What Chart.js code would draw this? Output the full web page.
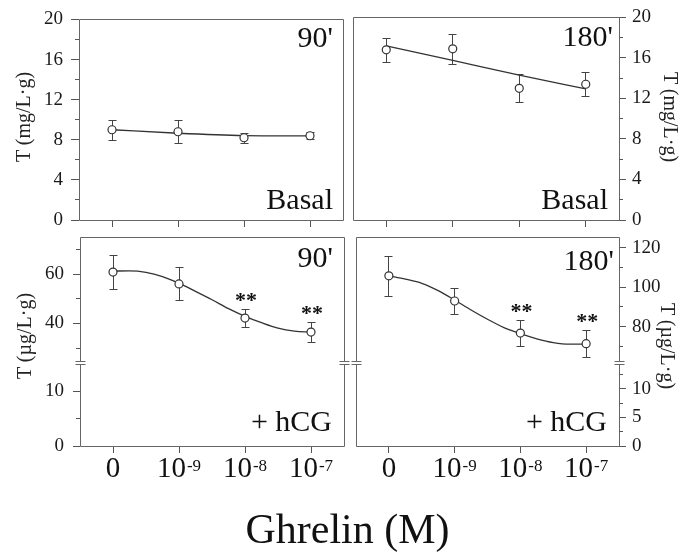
<!DOCTYPE html>
<html>
<head>
<meta charset="utf-8">
<script src="https://cdn.jsdelivr.net/npm/chart.js@4/dist/chart.umd.min.js"></script>
<style>
  body { margin: 0; background: #fff; }
  #wrap { position: relative; width: 695px; height: 555px; background: #fff; overflow: hidden;
          font-family: "Liberation Serif", "Times New Roman", serif; color: #111; }
  canvas { position: absolute; left: 0; top: 0; }
  .lbl { position: absolute; font-size: 30px; line-height: 30px; white-space: nowrap; }
  .ytitle { position: absolute; font-size: 20px; line-height: 20px; white-space: nowrap; color: #222; }
  .ytitle.l { transform: translate(-50%, -50%) rotate(-90deg); }
  .ytitle.r { transform: translate(-50%, -50%) rotate(90deg); }
  #xtitle { position: absolute; left: 0; width: 695px; top: 508px; text-align: center;
            font-size: 42px; line-height: 42px; }
</style>
</head>
<body>
<div id="wrap">
  <canvas id="tl" width="695" height="555"></canvas>
  <canvas id="tr" width="695" height="555"></canvas>
  <canvas id="bl" width="695" height="555"></canvas>
  <canvas id="br" width="695" height="555"></canvas>

  <div class="lbl" style="right:362px;top:22px">90'</div>
  <div class="lbl" style="right:362px;top:184px">Basal</div>
  <div class="lbl" style="right:82px;top:21px">180'</div>
  <div class="lbl" style="right:87px;top:184px">Basal</div>
  <div class="lbl" style="right:362px;top:242px">90'</div>
  <div class="lbl" style="right:363px;top:406px">+ hCG</div>
  <div class="lbl" style="right:81px;top:245px">180'</div>
  <div class="lbl" style="right:88px;top:406px">+ hCG</div>

  <div class="ytitle l" style="left:23px;top:117px">T (mg/L·g)</div>
  <div class="ytitle r" style="left:671px;top:117px">T (mg/L·g)</div>
  <div class="ytitle l" style="left:24px;top:336px">T (µg/L·g)</div>
  <div class="ytitle r" style="left:668px;top:346px">T (µg/L·g)</div>

  <div id="xtitle">Ghrelin (M)</div>
</div>

<script>
// ghrelin doses, plotted at equal spacing
const doses = [0, 1, 2, 3];
const doseBase = ['0', '10', '10', '10'];
const doseExp = ['', '-9', '-8', '-7'];

// basal, mg/L·g
const basal90 = [9.0, 8.8, 8.2, 8.4];
const basal90Err = [1.0, 1.15, 0.5, 0.35];
const basal90Fit = [9.0, 8.65, 8.42, 8.38];

const basal180 = [16.8, 16.9, 13.0, 13.4];
const basal180Err = [1.2, 1.5, 1.4, 1.2];
const basal180Fit = [17.2, 15.75, 14.3, 12.95];

// + hCG, µg/L·g (fit curve read at quarter steps)
const fitX = [0, 0.25, 0.5, 0.75, 1, 1.25, 1.5, 1.75, 2, 2.25, 2.5, 2.75, 3];

const hcg90 = [60.8, 56.0, 42.2, 36.5];
const hcg90Err = [7.0, 6.7, 3.7, 4.05];
const hcg90Fit = [61.2, 61.3, 60.7, 59.0, 56.3, 53.0, 49.6, 46.0, 42.9, 40.3, 38.1, 36.9, 36.5];
const hcg90Stars = ['', '', '**', '**'];

const hcg180 = [105.8, 93.0, 76.7, 71.3];
const hcg180Err = [10.3, 6.5, 6.6, 7.0];
const hcg180Fit = [105.8, 104.1, 102.0, 98.3, 93.5, 88.4, 83.7, 79.5, 76.4, 73.8, 71.9, 71.1, 71.1];
const hcg180Stars = ['', '', '**', '**'];

// axis ticks
const basalTicks = [0, 4, 8, 12, 16, 20];
const basalMinor = [2, 6, 10, 14, 18];
const hcg90LoTicks = [0, 10];
const hcg90LoMinor = [5];
const hcg90HiTicks = [40, 60];
const hcg90HiMinor = [30, 50, 70];
const hcg180LoTicks = [0, 5, 10];
const hcg180LoMinor = [2.5, 7.5, 12.5];
const hcg180HiTicks = [80, 100, 120];
const hcg180HiMinor = [70, 90, 110];

const SERIF = '"Liberation Serif", "Times New Roman", serif';
const INK = '#333';
const AXIS = '#666';

const al = p => Math.round(p - 0.5) + 0.5;

const decor = {
  id: 'decor',
  beforeDatasetsDraw(chart) {
    const ctx = chart.ctx;
    chart.data.datasets.forEach(ds => {
      if (!ds.errors) return;
      const xs = chart.scales.x, ys = chart.scales[ds.yAxisID];
      ctx.save();
      ctx.strokeStyle = '#444';
      ctx.lineWidth = 1;
      ds.data.forEach((p, i) => {
        const x = al(xs.getPixelForValue(p.x));
        const y1 = Math.round(ys.getPixelForValue(p.y + ds.errors[i])) + 0.5;
        const y2 = Math.round(ys.getPixelForValue(p.y - ds.errors[i])) + 0.5;
        ctx.beginPath();
        ctx.moveTo(x, y1); ctx.lineTo(x, y2);
        ctx.moveTo(x - 4, y1); ctx.lineTo(x + 4, y1);
        ctx.moveTo(x - 4, y2); ctx.lineTo(x + 4, y2);
        ctx.stroke();
      });
      ctx.restore();
    });
  },
  afterDatasetsDraw(chart) {
    const ctx = chart.ctx;
    chart.data.datasets.forEach(ds => {
      if (!ds.stars) return;
      const xs = chart.scales.x, ys = chart.scales[ds.yAxisID];
      ctx.save();
      ctx.fillStyle = '#111';
      ctx.font = 'bold 22px ' + SERIF;
      ctx.textAlign = 'center';
      ds.data.forEach((p, i) => {
        if (!ds.stars[i]) return;
        const top = ys.getPixelForValue(p.y + ds.errors[i]);
        ctx.fillText(ds.stars[i], xs.getPixelForValue(p.x) + 1, top - 2);
      });
      ctx.restore();
    });
  },
  afterDraw(chart, args, opts) {
    const ctx = chart.ctx;
    const ca = chart.chartArea;
    const L = al(ca.left), R = al(ca.right), T = al(ca.top), B = al(ca.bottom);
    ctx.save();
    ctx.strokeStyle = AXIS;
    ctx.lineWidth = 1;
    ctx.beginPath();
    ctx.moveTo(L, B); ctx.lineTo(R, B);
    ctx.moveTo(L, T); ctx.lineTo(R, T);
    if (opts.brk) {
      const yb = chart.scales[opts.brk].top;
      const u = Math.round(yb) - 1.5, d = Math.round(yb) + 1.5;
      [L, R].forEach(x => {
        ctx.moveTo(x, T); ctx.lineTo(x, u);
        ctx.moveTo(x, d); ctx.lineTo(x, B);
        ctx.moveTo(x - 5, u); ctx.lineTo(x + 5, u);
        ctx.moveTo(x - 5, d); ctx.lineTo(x + 5, d);
      });
    } else {
      ctx.moveTo(L, T); ctx.lineTo(L, B);
      ctx.moveTo(R, T); ctx.lineTo(R, B);
    }
    ctx.stroke();

    // minor ticks
    ctx.strokeStyle = '#555';
    ctx.beginPath();
    (opts.minor || []).forEach(m => {
      const s = chart.scales[m.axis];
      m.vals.forEach(v => {
        const y = al(s.getPixelForValue(v));
        if (s.position === 'left') { ctx.moveTo(ca.left - 4, y); ctx.lineTo(ca.left, y); }
        else { ctx.moveTo(ca.right, y); ctx.lineTo(ca.right + 4, y); }
      });
    });
    ctx.stroke();

    // dose labels with superscript exponents
    if (opts.xLabels) {
      const xs = chart.scales.x;
      ctx.fillStyle = '#111';
      ctx.textAlign = 'left';
      ctx.textBaseline = 'alphabetic';
      const base = ca.bottom + 31;
      doses.forEach((d, i) => {
        ctx.font = '29px ' + SERIF;
        const wb = ctx.measureText(doseBase[i]).width;
        ctx.font = '17px ' + SERIF;
        const we = doseExp[i] ? ctx.measureText(doseExp[i]).width + 1 : 0;
        const x0 = xs.getPixelForValue(d) - (wb + we) / 2;
        ctx.font = '29px ' + SERIF;
        ctx.fillText(doseBase[i], x0, base);
        if (doseExp[i]) {
          ctx.font = '17px ' + SERIF;
          ctx.fillText(doseExp[i], x0 + wb + 1, base - 6);
        }
      });
    }
    ctx.restore();
  }
};
Chart.register(decor);

function xScale(h) {
  return {
    type: 'linear', min: -0.5, max: 3.5,
    afterBuildTicks: s => { s.ticks = doses.map(v => ({ value: v })); },
    afterFit: s => { s.height = h; },
    border: { display: false },
    grid: { drawOnChartArea: false, tickLength: 7, tickColor: '#555' },
    ticks: { display: false }
  };
}

function yScale(o) {
  const s = {
    type: 'linear', position: o.pos, min: o.min, max: o.max,
    afterBuildTicks: sc => { sc.ticks = o.ticks.map(v => ({ value: v })); },
    afterFit: sc => { sc.width = o.width; },
    border: { display: false },
    grid: { drawOnChartArea: false, tickLength: o.tl || 8, tickColor: '#555' },
    ticks: { padding: o.pad, color: '#1a1a1a', font: { family: SERIF, size: 19 } }
  };
  if (o.stack) { s.stack = o.stack; s.stackWeight = o.sw; s.weight = o.w; }
  return s;
}

function pointsSet(vals, errs, yId, stars) {
  return {
    data: doses.map((d, i) => ({ x: d, y: vals[i] })),
    errors: errs, stars: stars, yAxisID: yId,
    showLine: false, pointRadius: 4, pointBorderWidth: 1.2,
    pointBackgroundColor: '#fff', pointBorderColor: INK
  };
}

function fitSet(xs, vals, yId) {
  return {
    data: xs.map((x, i) => ({ x: x, y: vals[i] })),
    yAxisID: yId, pointRadius: 0, borderColor: INK, borderWidth: 1.3,
    cubicInterpolationMode: 'monotone', fill: false
  };
}

function panel(id, padding, xH, scales, datasets, decorOpts) {
  return new Chart(document.getElementById(id), {
    type: 'line',
    data: { datasets: datasets },
    options: {
      responsive: false, animation: false, events: [],
      layout: { padding: padding },
      plugins: { legend: { display: false }, tooltip: { enabled: false }, decor: decorOpts },
      scales: Object.assign({ x: xScale(xH) }, scales)
    }
  });
}

// top left: basal 90'
panel('tl', { left: 0, top: 13, right: 352, bottom: 0 }, 335,
  { y: yScale({ pos: 'left', min: 0, max: 20, ticks: basalTicks, width: 79, pad: 8 }) },
  [pointsSet(basal90, basal90Err, 'y'), fitSet(doses, basal90Fit, 'y')],
  { minor: [{ axis: 'y', vals: basalMinor }] });

// top right: basal 180'
panel('tr', { left: 353, top: 13, right: 0, bottom: 0 }, 335,
  { y: yScale({ pos: 'right', min: 0, max: 20, ticks: basalTicks, width: 76, tl: 7, pad: 6 }) },
  [pointsSet(basal180, basal180Err, 'y'), fitSet(doses, basal180Fit, 'y')],
  { minor: [{ axis: 'y', vals: basalMinor }] });

// bottom left: + hCG 90', broken axis
panel('bl', { left: 0, top: 237, right: 351, bottom: 0 }, 109,
  {
    yHi: yScale({ pos: 'left', min: 24, max: 75, ticks: hcg90HiTicks, width: 80, tl: 7, pad: 9, stack: 'l', sw: 126, w: 2 }),
    yLo: yScale({ pos: 'left', min: 0, max: 15.2, ticks: hcg90LoTicks, width: 80, tl: 7, pad: 9, stack: 'l', sw: 83, w: 1 })
  },
  [pointsSet(hcg90, hcg90Err, 'yHi', hcg90Stars), fitSet(fitX, hcg90Fit, 'yHi')],
  { brk: 'yLo', xLabels: true,
    minor: [{ axis: 'yHi', vals: hcg90HiMinor }, { axis: 'yLo', vals: hcg90LoMinor }] });

// bottom right: + hCG 180', broken axis
panel('br', { left: 356, top: 237, right: 0, bottom: 0 }, 109,
  {
    yHi: yScale({ pos: 'right', min: 61.5, max: 125.5, ticks: hcg180HiTicks, width: 76, tl: 7, pad: 6, stack: 'r', sw: 126, w: 1 }),
    yLo: yScale({ pos: 'right', min: 0, max: 14.5, ticks: hcg180LoTicks, width: 76, tl: 7, pad: 6, stack: 'r', sw: 83, w: 2 })
  },
  [pointsSet(hcg180, hcg180Err, 'yHi', hcg180Stars), fitSet(fitX, hcg180Fit, 'yHi')],
  { brk: 'yLo', xLabels: true,
    minor: [{ axis: 'yHi', vals: hcg180HiMinor }, { axis: 'yLo', vals: hcg180LoMinor }] });
</script>
</body>
</html>
